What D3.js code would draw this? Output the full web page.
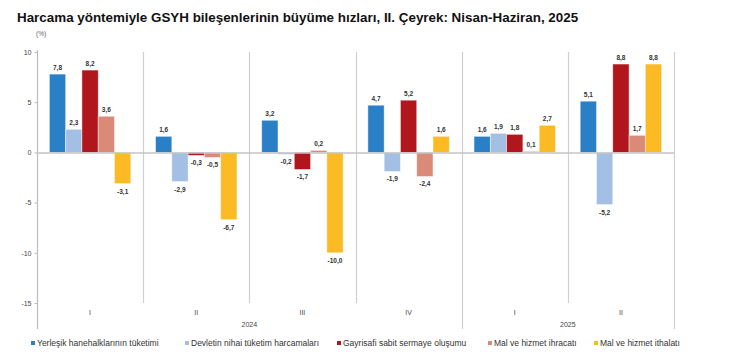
<!DOCTYPE html>
<html><head><meta charset="utf-8">
<script src="https://cdn.jsdelivr.net/npm/d3@7"></script>
<style>
body{margin:0;background:#fff;}
svg{display:block;font-family:"Liberation Sans",Arial,sans-serif;}
</style></head>
<body><svg id="c" width="739" height="355"></svg>
<script>
const quarters = ["I","II","III","IV","I","II"];
const years = ["2024","2025"];
const yearSpans = [4, 2];
const seriesNames = ["Yerleşik hanehalklarının tüketimi","Devletin nihai tüketim harcamaları","Gayrisafi sabit sermaye oluşumu","Mal ve hizmet ihracatı","Mal ve hizmet ithalatı"];
const hanehalki = [7.8, 1.6, 3.2, 4.7, 1.6, 5.1];
const devlet = [2.3, -2.9, -0.2, -1.9, 1.9, -5.2];
const gsso = [8.2, -0.3, -1.7, 5.2, 1.8, 8.8];
const ihracat = [3.6, -0.5, 0.2, -2.4, 0.1, 1.7];
const ithalat = [-3.1, -6.7, -10.0, 1.6, 2.7, 8.8];
const yTicks = [-15, -10, -5, 0, 5, 10];
const colors = ["#2a80c7","#a3bfe4","#b0161b","#d98b78","#fcba24"];

const series = [hanehalki, devlet, gsso, ihracat, ithalat];
const svg = d3.select("#c");
const X0 = 37, X1 = 674;
const idx = d3.range(quarters.length);
const x = d3.scaleBand().domain(idx).range([X0, X1]).padding(0);
const xs = d3.scaleBand().domain(d3.range(series.length)).range([0, x.bandwidth()]).paddingInner(0).paddingOuter(0.76);
const y = d3.scaleLinear().domain([-15, 10]).range([303, 52]);
const fmt = v => d3.format(".1f")(v).replace(".", ",").replace("\u2212", "-");

// title
svg.append("text").attr("x", 17).attr("y", 21.5).attr("font-size", 13.4).attr("font-weight", "bold")
  .attr("fill", "#111").text("Harcama yöntemiyle GSYH bileşenlerinin büyüme hızları, II. Çeyrek: Nisan-Haziran, 2025");
svg.append("text").attr("x", 36).attr("y", 35.5).attr("font-size", 6.5).attr("fill", "#666").text("(%)");

// separators
const grid = "#cfcfcf";
idx.forEach(i => {
  if (i === 0) return;
  const xx = Math.round(x(i)) + 0.5;
  const isYear = i === 4;
  svg.append("line").attr("x1", xx).attr("x2", xx).attr("y1", 52).attr("y2", isYear ? 329 : 303)
    .attr("stroke", grid).attr("stroke-width", 1.2);
});
const xr = Math.round(X1) + 0.5;
svg.append("line").attr("x1", xr).attr("x2", xr).attr("y1", 52).attr("y2", 329).attr("stroke", grid).attr("stroke-width", 1.2);

// y axis
const yAxis = d3.axisLeft(y).tickValues(yTicks).tickSize(3).tickPadding(3).tickFormat(d => String(d));
const ga = svg.append("g").attr("transform", `translate(${X0 + 0.5},0)`).call(yAxis);
ga.select(".domain").remove();
ga.selectAll("line").attr("stroke", "#bdbdbd");
ga.selectAll("text").attr("font-size", 7).attr("fill", "#444").attr("font-family", "Liberation Sans, Arial, sans-serif");
svg.append("line").attr("x1", X0 + 0.5).attr("x2", X0 + 0.5).attr("y1", 50).attr("y2", 329).attr("stroke", "#bdbdbd").attr("stroke-width", 1.2);

// bars
series.forEach((vals, s) => {
  const g = svg.append("g");
  g.selectAll("rect").data(vals).join("rect")
    .attr("x", (d, i) => x(i) + xs(s))
    .attr("width", xs.bandwidth())
    .attr("y", d => y(Math.max(0, d)))
    .attr("height", d => Math.abs(y(d) - y(0)))
    .attr("fill", colors[s])
    .attr("stroke", "#fff").attr("stroke-opacity", 0.55).attr("stroke-width", 0.8);
  g.selectAll("text").data(vals).join("text")
    .attr("x", (d, i) => x(i) + xs(s) + xs.bandwidth() / 2)
    .attr("y", d => d >= 0 ? y(d) - 4.5 : y(d) + 10)
    .attr("text-anchor", "middle").attr("font-size", 6.5).attr("font-weight", "bold").attr("fill", "#333")
    .text(d => fmt(d));
});

// zero line
svg.append("line").attr("x1", X0).attr("x2", X1).attr("y1", y(0) + 0.5).attr("y2", y(0) + 0.5)
  .attr("stroke", "#c4c4c4").attr("stroke-width", 1.5);

// category labels
svg.selectAll("text.q").data(quarters).join("text").attr("class", "q")
  .attr("x", (d, i) => x(i) + x.bandwidth() / 2).attr("y", 314.5)
  .attr("text-anchor", "middle").attr("font-size", 7).attr("fill", "#444").text(d => d);
let start = 0;
years.forEach((yr, k) => {
  const a = x(start), b = x(start + yearSpans[k] - 1) + x.bandwidth();
  svg.append("text").attr("x", (a + b) / 2).attr("y", 327).attr("text-anchor", "middle")
    .attr("font-size", 7).attr("fill", "#444").text(yr);
  start += yearSpans[k];
});

// legend
const legX = [31, 185, 337, 488, 594];
seriesNames.forEach((n, s) => {
  svg.append("rect").attr("x", legX[s]).attr("y", 341).attr("width", 4).attr("height", 4).attr("fill", colors[s]);
  svg.append("text").attr("x", legX[s] + 6).attr("y", 346.3).attr("font-size", 8.5).attr("fill", "#333").text(n);
});
</script></body></html>
